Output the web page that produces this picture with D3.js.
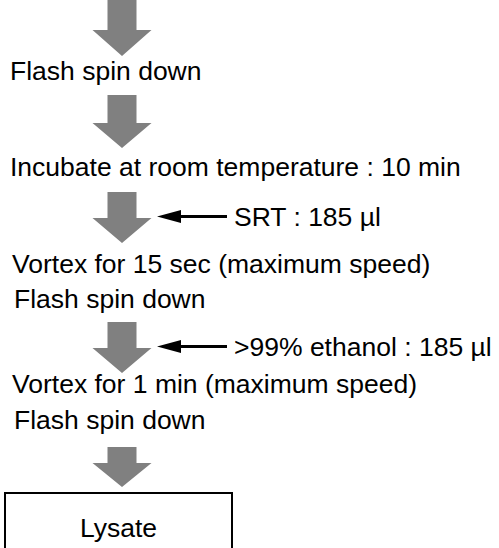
<!DOCTYPE html>
<html>
<head>
<meta charset="utf-8">
<script src="https://cdn.jsdelivr.net/npm/d3@7"></script>
<style>
  body { margin: 0; background: #fff; }
  svg text { font-family: "Liberation Sans", Arial, sans-serif; fill: #000; }
</style>
</head>
<body>
<svg id="chart"></svg>
<script>
// protocol steps, top to bottom
let stepLabels = ['Flash spin down', 'Incubate at room temperature : 10 min',
                  'Vortex for 15 sec (maximum speed)', 'Flash spin down',
                  'Vortex for 1 min (maximum speed)', 'Flash spin down'];
// reagents added beside a grey arrow
let reagentLabels = ['SRT : 185 µl', '>99% ethanol : 185 µl'];
let reagentArrowIndex = [2, 3];
let endLabel = 'Lysate';

let width = 499;
let height = 548;

let svg = d3.select('#chart')
            .attr('width', width)
            .attr('height', height);

// layout
let arrowX = 122;
let arrows = [
  {top: 0, neck: 30, tip: 56},
  {top: 95, neck: 123, tip: 148},
  {top: 192, neck: 218, tip: 243},
  {top: 322, neck: 348, tip: 373},
  {top: 447, neck: 463, tip: 487}
];
let stepY = [80, 176, 273, 308, 393, 429];
let stepX = [10, 10, 12, 14, 12, 14];
let fontSize = 26.5;

let line = d3.line();

// grey block arrows
svg.selectAll('path.down')
   .data(arrows)
   .enter()
   .append('path')
   .attr('class', 'down')
   .attr('fill', '#808080')
   .attr('d', (a) => {
     return line([
       [arrowX - 14.5, a.top], [arrowX + 14.5, a.top], [arrowX + 14.5, a.neck],
       [arrowX + 29.5, a.neck], [arrowX, a.tip], [arrowX - 29.5, a.neck],
       [arrowX - 14.5, a.neck]
     ]) + 'Z';
   });

// step texts
svg.selectAll('text.step')
   .data(stepLabels)
   .enter()
   .append('text')
   .attr('class', 'step')
   .attr('x', (d, i) => stepX[i])
   .attr('y', (d, i) => stepY[i])
   .style('font-size', fontSize + 'px')
   .text((d) => d);

// reagent arrows and labels
reagentLabels.forEach((label, i) => {
  let a = arrows[reagentArrowIndex[i]];
  let y = (a.top + a.tip) / 2 - 1;
  svg.append('line')
     .attr('x1', 170).attr('x2', 227)
     .attr('y1', y).attr('y2', y)
     .attr('stroke', '#000')
     .attr('stroke-width', 3);
  svg.append('path')
     .attr('fill', '#000')
     .attr('d', line([[157, y], [181, y - 6.5], [181, y + 6.5]]) + 'Z');
  svg.append('text')
     .attr('x', 234)
     .attr('y', y + 9)
     .style('font-size', fontSize + 'px')
     .text(label);
});

// final box
svg.append('rect')
   .attr('x', 5).attr('y', 493)
   .attr('width', 227).attr('height', 80)
   .attr('fill', 'none')
   .attr('stroke', '#000')
   .attr('stroke-width', 2);

svg.append('text')
   .attr('x', 118.5)
   .attr('y', 537)
   .attr('text-anchor', 'middle')
   .style('font-size', fontSize + 'px')
   .text(endLabel);
</script>
</body>
</html>
